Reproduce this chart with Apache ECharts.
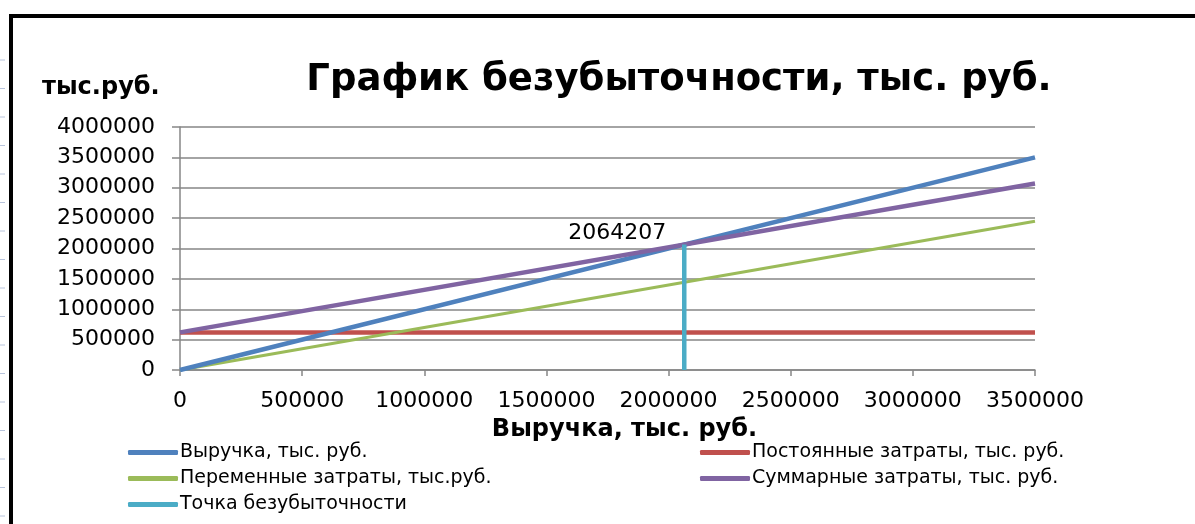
<!DOCTYPE html>
<html>
<head>
<meta charset="utf-8">
<script src="https://cdn.jsdelivr.net/npm/echarts@6/dist/echarts.min.js"></script>
<style>
  html, body { margin: 0; padding: 0; background: #fff; }
  #chart { width: 1195px; height: 524px; }
</style>
</head>
<body>
<div id="chart"></div>
<script>
// data
var xPoints = [0, 3500000];
var revenue = [0, 3500000];
var fixedCosts = [619262, 619262];
var variableCosts = [0, 2450000];
var totalCosts = [619262, 3069262];
var breakEvenX = [2064207, 2064207];
var breakEvenY = [0, 2064207];

var names = [
    'Выручка, тыс. руб.',
    'Постоянные затраты, тыс. руб.',
    'Переменные затраты, тыс.руб.',
    'Суммарные затраты, тыс. руб.',
    'Точка безубыточности'
];
var colors = ['#4F81BD', '#C0504D', '#9BBB59', '#8064A2', '#4BACC6'];

function pairs(xs, ys) {
    return xs.map(function (x, i) { return [x, ys[i]]; });
}
function plain(v) { return String(v); }

var font = 'DejaVu Sans';
var chart = echarts.init(document.getElementById('chart'));

// faint sheet gridline stubs at the far left
var stubs = [];
for (var y = 60; y < 524; y += 28.5) {
    stubs.push({
        type: 'line', shape: { x1: 0, y1: y, x2: 5, y2: y },
        style: { stroke: '#b8c4dc', lineWidth: 1 }
    });
}

chart.setOption({
    animation: false,
    color: colors,
    title: {
        text: 'График безубыточности, тыс. руб.',
        left: 674, top: 57, textAlign: 'center',
        textStyle: { fontFamily: font, fontSize: 37, fontWeight: 'bold', color: '#000' }
    },
    grid: { left: 180, right: 160, top: 127, bottom: 154 },
    legend: [{
        orient: 'vertical', left: 123, top: 438, itemWidth: 50, itemHeight: 5, itemGap: 7,
        icon: 'roundRect',
        data: [names[0], names[2], names[4]],
        textStyle: { fontFamily: font, fontSize: 19, color: '#000', padding: [0, 0, 0, -3] }
    }, {
        orient: 'vertical', left: 695, top: 438, itemWidth: 50, itemHeight: 5, itemGap: 7,
        icon: 'roundRect',
        data: [names[1], names[3]],
        textStyle: { fontFamily: font, fontSize: 19, color: '#000', padding: [0, 0, 0, -3] }
    }],
    graphic: stubs.concat([{
        type: 'polyline',
        shape: { points: [[11, 524], [11, 16], [1195, 16]] },
        style: { stroke: '#000', lineWidth: 4, fill: null }
    }, {
        type: 'text', left: 42, top: 76,
        style: { text: 'тыс.руб.', font: 'bold 24px "DejaVu Sans"', fill: '#000' }
    }]),
    xAxis: {
        type: 'value', min: 0, max: 3500000, interval: 500000,
        name: 'Выручка, тыс. руб.', nameLocation: 'middle', nameGap: 48,
        nameTextStyle: { fontFamily: font, fontSize: 24, fontWeight: 'bold', color: '#000', padding: [0, 0, 0, 34] },
        axisLine: { lineStyle: { color: '#868686', width: 1.5 } },
        axisTick: { show: true, length: 6, lineStyle: { color: '#868686', width: 1.5 } },
        axisLabel: { fontFamily: font, fontSize: 22, color: '#000', margin: 20, formatter: plain },
        splitLine: { show: false }
    },
    yAxis: {
        type: 'value', min: 0, max: 4000000, interval: 500000,
        axisLine: { show: true, lineStyle: { color: '#868686', width: 1.5 } },
        axisTick: { show: true, length: 8, lineStyle: { color: '#868686', width: 1.5 } },
        axisLabel: { fontFamily: font, fontSize: 22, color: '#000', margin: 25, formatter: plain },
        splitLine: { lineStyle: { color: '#868686', width: 1.5 } }
    },
    series: [{
        name: names[0], type: 'line', symbol: 'none', lineStyle: { width: 4.5 },
        data: pairs(xPoints, revenue), z: 4
    }, {
        name: names[1], type: 'line', symbol: 'none', lineStyle: { width: 4.5 },
        data: pairs(xPoints, fixedCosts), z: 2
    }, {
        name: names[2], type: 'line', symbol: 'none', lineStyle: { width: 3 },
        data: pairs(xPoints, variableCosts), z: 3
    }, {
        name: names[3], type: 'line', symbol: 'none', lineStyle: { width: 4.5 },
        data: pairs(xPoints, totalCosts), z: 5
    }, {
        name: names[4], type: 'line', symbol: 'none', lineStyle: { width: 4.5 },
        data: pairs(breakEvenX, breakEvenY), z: 6,
        endLabel: {
            show: true, offset: [-124, -11],
            formatter: function (p) { return String(p.value[1]); },
            fontFamily: font, fontSize: 22, color: '#000'
        }
    }]
});
</script>
</body>
</html>
